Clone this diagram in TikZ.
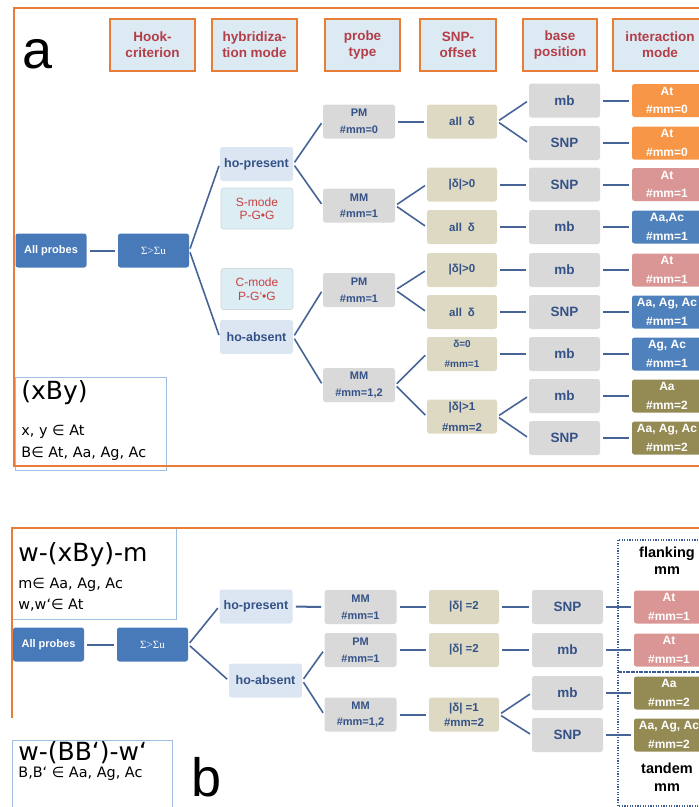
\documentclass[tikz,border=0pt]{standalone}
\usepackage{fontspec}
\setmainfont{Liberation Sans}
\newfontfamily\notefont{DejaVu Sans}
\newfontfamily\sigfont{Liberation Serif}

\definecolor{frameor}{RGB}{232,125,55}
\definecolor{hdrfill}{RGB}{220,234,244}
\definecolor{hdrred}{RGB}{180,62,72}
\definecolor{boxblue}{RGB}{72,122,186}
\definecolor{hofill}{RGB}{220,230,242}
\definecolor{modefill}{RGB}{220,237,244}
\definecolor{modeline}{RGB}{205,215,222}
\definecolor{modered}{RGB}{200,65,65}
\definecolor{navytext}{RGB}{52,82,135}
\definecolor{cellgray}{RGB}{217,217,217}
\definecolor{cellbeige}{RGB}{221,217,195}
\definecolor{intorange}{RGB}{247,150,70}
\definecolor{intpink}{RGB}{218,150,148}
\definecolor{intblue}{RGB}{79,129,189}
\definecolor{intolive}{RGB}{148,138,84}
\definecolor{linkblue}{RGB}{70,100,150}
\definecolor{noteblue}{RGB}{160,190,225}
\definecolor{dotblue}{RGB}{60,90,150}

\tikzset{every picture/.style={line width=0.75pt},
  hdrbox/.style={draw=frameor, line width=2, fill=hdrfill, text=hdrred, minimum width=#1, minimum height=52, inner sep=0, align=center, font=\bfseries\fontsize{13.5}{16}\selectfont},
  cell/.style={rounded corners=2.5, inner sep=0, align=center, minimum height=34},
  bluecell/.style={cell, fill=boxblue, text=white, minimum width=71, font=\bfseries\fontsize{11}{13}\selectfont},
  hocell/.style={cell, fill=hofill, text=navytext, minimum width=73, font=\bfseries\fontsize{12.5}{15}\selectfont},
  modecell/.style={cell, fill=modefill, draw=modeline, line width=0.6, text=modered, minimum width=72, minimum height=41, font=\fontsize{12}{13.5}\selectfont},
  probecell/.style={cell, fill=cellgray, text=navytext, minimum width=72, font=\bfseries\fontsize{11}{16.5}\selectfont},
  offcell/.style={cell, fill=cellbeige, text=navytext, minimum width=70, font=\bfseries\fontsize{11.5}{16}\selectfont},
  basecell/.style={cell, fill=cellgray, text=navytext, minimum width=71, font=\bfseries\fontsize{13.5}{16}\selectfont},
  intcell/.style={cell, fill=#1, text=white, minimum width=70, minimum height=33, font=\bfseries\fontsize{12}{18.5}\selectfont},
  link/.style={draw=linkblue, line width=2, shorten <=3, shorten >=3},
  fork/.style={draw=linkblue, line width=1.6, shorten <=2, shorten >=2},
  note/.style={draw=noteblue, line width=1, fill=white},
  notetext/.style={anchor=west, inner sep=0, font=\notefont\fontsize{14.4}{16}\selectfont},
  notehead/.style={anchor=west, inner sep=0, font=\notefont\fontsize{25}{27}\selectfont},
  dotbox/.style={draw=dotblue, line width=1.6, dash pattern=on 1.2 off 1.4},
  sidelabel/.style={inner sep=0, align=center, font=\bfseries\fontsize{14.5}{18.5}\selectfont}
}

\begin{document}
\begin{tikzpicture}[x=1pt,y=1pt,yscale=-1,xscale=1]
\useasboundingbox (0,0) rectangle (699,807);
\clip (0,0) rectangle (699,807);

%Shape: note boxes (under the frames)
\draw[note] (15,377) rectangle (166,470);
\draw[note] (12,528) rectangle (176,619);
\draw[note] (12,740) rectangle (172,830);

%Shape: panel frames
\draw[draw=frameor, line width=2.5] (14,8) rectangle (712,466);
\draw[draw=frameor, line width=2.5] (12,718) -- (12,528) -- (712,528);

%Shape: dotted groups of panel b
\draw[dotbox] (618,540) rectangle (712,672);
\draw[dotbox] (618,672) rectangle (712,806);

% Text Node: panel letters
\node (labA) [inner sep=0, font=\fontsize{54}{54}\selectfont] at (38,54) {a};
\node (labB) [inner sep=0, font=\fontsize{54}{54}\selectfont] at (207,777) {b};

% Text Node: column heads
\node (hdrHook) [hdrbox=85] at (152.5,45) {Hook-\\criterion};
\node (hdrHyb) [hdrbox=85] at (254.5,45) {hybridiza-\\tion mode};
\node (hdrProbe) [hdrbox=75] at (362.5,45) {probe\\type};
\node (hdrOffset) [hdrbox=76] at (458,45) {SNP-\\offset};
\node (hdrBase) [hdrbox=74] at (560,45) {base\\position};
\node (hdrMode) [hdrbox=94] at (660,45) {interaction\\mode};

% Text Node: notes
\node (xbyHead) [notehead] at (21,393) {(xBy)};
\node (xbyLineA) [notetext] at (21,432) {x, y ∈ At};
\node (xbyLineB) [notetext] at (21,454) {B∈ At, Aa, Ag, Ac};
\node (wxymHead) [notehead] at (18,555) {w-(xBy)-m};
\node (wxymLineA) [notetext] at (18,585) {m∈ Aa, Ag, Ac};
\node (wxymLineB) [notetext] at (18,605) {w,w‘∈ At};
\node (wbbwHead) [notehead] at (18,753) {w-(BB‘)-w‘};
\node (wbbwLine) [notetext] at (18,774) {B,B‘ ∈ Aa, Ag, Ac};

% panel a
\node (allA) [bluecell] at (51,250.5) {All probes};
\node (sigA) [bluecell, font=\sigfont\fontsize{11}{13}\selectfont] at (153.5,250.5) {Σ>Σu};
\node (hopA) [hocell] at (256.5,164) {ho-present};
\node (smodeA) [modecell] at (257,208.5) {S-mode\\P-G•G};
\node (cmodeA) [modecell] at (257,289) {C-mode\\P-G‘•G};
\node (hoaA) [hocell] at (256.5,337) {ho-absent};

\node (pmA0) [probecell] at (359,121.5) {PM\\\#mm=0};
\node (mmA1) [probecell] at (359,205.5) {MM\\\#mm=1};
\node (pmA1) [probecell] at (359,290) {PM\\\#mm=1};
\node (mmA12) [probecell] at (359,385) {MM\\\#mm=1,2};

\node (offA1) [offcell] at (462,121.5) {all\enspace δ};
\node (offA2) [offcell] at (462,184.5) {|δ|>0};
\node (offA3) [offcell] at (462,227) {all\enspace δ};
\node (offA4) [offcell] at (462,270) {|δ|>0};
\node (offA5) [offcell] at (462,312) {all\enspace δ};
\node (offA6) [offcell, font=\bfseries\fontsize{10}{20}\selectfont] at (462,354) {δ=0\\\#mm=1};
\node (offA7) [offcell, font=\bfseries\fontsize{11.5}{21}\selectfont] at (462,416.5) {|δ|>1\\\#mm=2};

\node (baseA1) [basecell] at (564.5,100.5) {mb};
\node (baseA2) [basecell] at (564.5,143) {SNP};
\node (baseA3) [basecell] at (564.5,184.5) {SNP};
\node (baseA4) [basecell] at (564.5,227) {mb};
\node (baseA5) [basecell] at (564.5,270) {mb};
\node (baseA6) [basecell] at (564.5,312) {SNP};
\node (baseA7) [basecell] at (564.5,354) {mb};
\node (baseA8) [basecell] at (564.5,396) {mb};
\node (baseA9) [basecell] at (564.5,438) {SNP};

\node (intA1) [intcell=intorange] at (667,100.5) {At\\\#mm=0};
\node (intA2) [intcell=intorange] at (667,143) {At\\\#mm=0};
\node (intA3) [intcell=intpink] at (667,184.5) {At\\\#mm=1};
\node (intA4) [intcell=intblue] at (667,227) {Aa,Ac\\\#mm=1};
\node (intA5) [intcell=intpink] at (667,270) {At\\\#mm=1};
\node (intA6) [intcell=intblue] at (667,312) {Aa, Ag, Ac\\\#mm=1};
\node (intA7) [intcell=intblue] at (667,354) {Ag, Ac\\\#mm=1};
\node (intA8) [intcell=intolive] at (667,396) {Aa\\\#mm=2};
\node (intA9) [intcell=intolive] at (667,438) {Aa, Ag, Ac\\\#mm=2};

%Straight Lines: panel a
\draw[link] (allA) -- (sigA);
\draw[fork] (sigA.east) -- (hopA.west);
\draw[fork] (sigA.east) -- (hoaA.west);
\draw[fork] (hopA.east) -- (pmA0.west);
\draw[fork] (hopA.east) -- (mmA1.west);
\draw[fork] (hoaA.east) -- (pmA1.west);
\draw[fork] (hoaA.east) -- (mmA12.west);
\draw[link] (pmA0) -- (offA1);
\draw[fork] (mmA1.east) -- (offA2.west);
\draw[fork] (mmA1.east) -- (offA3.west);
\draw[fork] (pmA1.east) -- (offA4.west);
\draw[fork] (pmA1.east) -- (offA5.west);
\draw[fork] (mmA12.east) -- (offA6.west);
\draw[fork] (mmA12.east) -- (offA7.west);
\draw[fork] (offA1.east) -- (baseA1.west);
\draw[fork] (offA1.east) -- (baseA2.west);
\draw[link] (offA2) -- (baseA3);
\draw[link] (offA3) -- (baseA4);
\draw[link] (offA4) -- (baseA5);
\draw[link] (offA5) -- (baseA6);
\draw[link] (offA6) -- (baseA7);
\draw[fork] (offA7.east) -- (baseA8.west);
\draw[fork] (offA7.east) -- (baseA9.west);
\draw[link] (baseA1) -- (intA1);
\draw[link] (baseA2) -- (intA2);
\draw[link] (baseA3) -- (intA3);
\draw[link] (baseA4) -- (intA4);
\draw[link] (baseA5) -- (intA5);
\draw[link] (baseA6) -- (intA6);
\draw[link] (baseA7) -- (intA7);
\draw[link] (baseA8) -- (intA8);
\draw[link] (baseA9) -- (intA9);

% panel b
\node (allB) [bluecell] at (48.5,644.5) {All probes};
\node (sigB) [bluecell, font=\sigfont\fontsize{11}{13}\selectfont] at (152.5,644.5) {Σ>Σu};
\node (hopB) [hocell] at (256,606.5) {ho-present};
\node (hoaB) [hocell] at (265.5,680.5) {ho-absent};

\node (mmB1) [probecell] at (360.5,607) {MM\\\#mm=1};
\node (pmB1) [probecell] at (360.5,650) {PM\\\#mm=1};
\node (mmB12) [probecell] at (360.5,714.5) {MM\\\#mm=1,2};

\node (offB1) [offcell] at (464,607) {|δ| =2};
\node (offB2) [offcell] at (464,650) {|δ| =2};
\node (offB3) [offcell, font=\bfseries\fontsize{11.5}{15}\selectfont] at (464,714.5) {|δ| =1\\\#mm=2};

\node (baseB1) [basecell] at (567.5,607) {SNP};
\node (baseB2) [basecell] at (567.5,650) {mb};
\node (baseB3) [basecell] at (567.5,693) {mb};
\node (baseB4) [basecell] at (567.5,735) {SNP};

\node (intB1) [intcell=intpink] at (669,607) {At\\\#mm=1};
\node (intB2) [intcell=intpink] at (669,650) {At\\\#mm=1};
\node (intB3) [intcell=intolive] at (669,693) {Aa\\\#mm=2};
\node (intB4) [intcell=intolive] at (669,735) {Aa, Ag, Ac\\\#mm=2};

% Text Node: group labels
\node (flankLbl) [sidelabel, font=\bfseries\fontsize{14.5}{17}\selectfont] at (667,561) {flanking\\mm};
\node (tandemLbl) [sidelabel] at (667,777) {tandem\\mm};

%Straight Lines: panel b
\draw[link] (allB) -- (sigB);
\draw[fork] (sigB.east) -- (hopB.west);
\draw[fork] (sigB.east) -- (hoaB.west);
\draw[link] (hopB) -- (mmB1);
\draw[fork] (hoaB.east) -- (pmB1.west);
\draw[fork] (hoaB.east) -- (mmB12.west);
\draw[link] (mmB1) -- (offB1);
\draw[link] (pmB1) -- (offB2);
\draw[link] (mmB12) -- (offB3);
\draw[link] (offB1) -- (baseB1);
\draw[link] (offB2) -- (baseB2);
\draw[fork] (offB3.east) -- (baseB3.west);
\draw[fork] (offB3.east) -- (baseB4.west);
\draw[link] (baseB1) -- (intB1);
\draw[link] (baseB2) -- (intB2);
\draw[link] (baseB3) -- (intB3);
\draw[link] (baseB4) -- (intB4);

\end{tikzpicture}
\end{document}
